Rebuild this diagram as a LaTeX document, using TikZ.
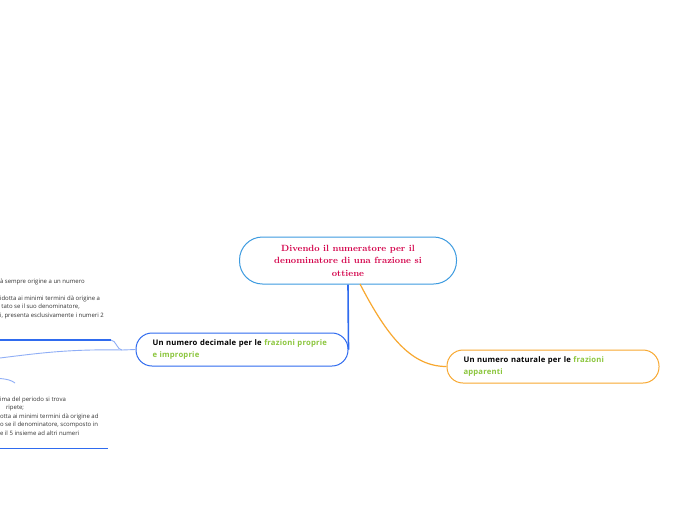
\documentclass[tikz,border=0pt]{standalone}
\usepackage{fontspec}
\setsansfont{Open Sans}
\definecolor{mainborder}{HTML}{3D9BE0}
\definecolor{maintext}{HTML}{D4004A}
\definecolor{leftblue}{HTML}{2F6BEF}
\definecolor{lightblue}{HTML}{8FAEF6}
\definecolor{orangeb}{HTML}{F8A830}
\definecolor{greent}{HTML}{8CC63E}
\definecolor{smalltext}{HTML}{333333}
\tikzset{
  pill/.style={draw, rounded corners=16pt, line width=1pt, fill=white, inner sep=0pt},
  mainfont/.style={font=\bfseries\fontsize{9}{12.5}\selectfont},
  mainbox/.style={pill, mainfont, draw=mainborder, rounded corners=23pt, minimum width=217pt, minimum height=47pt,
     align=center, text=maintext},
  subfont/.style={font=\sffamily\bfseries\fontsize{7.7}{12}\selectfont\addfontfeature{LetterSpace=2.5}},
  subbox/.style={pill, subfont, minimum width=212pt, minimum height=33pt, align=left, text width=179pt},
  smalltxt/.style={anchor=north west, inner sep=0pt, outer sep=0pt, align=left, text=smalltext,
     font=\sffamily\fontsize{6}{8.7}\selectfont},
  bline/.style={draw=leftblue, line width=1.6pt},
  thinline/.style={draw=lightblue, line width=0.9pt},
}
\begin{document}
\begin{tikzpicture}[x=1pt,y=-1pt]
\useasboundingbox[fill=white] (0,0) rectangle (696,520);

\node[mainbox] (c) at (348,260.5) {Divendo il numeratore per il\\denominatore di una frazione si\\ottiene};
\node[subbox, draw=leftblue] (l) at (242,349.5) {Un numero decimale per le \textcolor{greent}{frazioni proprie\\e improprie}};
\node[subbox, draw=orangeb] (r) at (553,366.5) {Un numero naturale per le \textcolor{greent}{frazioni\\apparenti}};

% connectors from the central node
\draw[leftblue, line width=1.6pt] (c.south) -- (l.east);
\coordinate (co) at (360,284);
\draw[orangeb, line width=1.2pt] (co) .. controls (388,338) and (412,366.5) .. (r.west);

% left branches
\coordinate (k1) at (122,350);
\coordinate (k2) at (111,340);
\coordinate (e1) at (0,340);
\coordinate (e2) at (0,358);
\draw[thinline] (l.west) -- (k1) .. controls (117,350) and (116,340) .. (k2);
\draw[bline] (k2) -- (e1);
\draw[thinline] (k1) .. controls (70,349) and (40,353) .. (e2);
\coordinate (a1) at (0,378.5);
\coordinate (a2) at (15,383);
\draw[thinline] (a1) .. controls (7,379) and (12,380.5) .. (a2);
\coordinate (b1) at (0,448.5);
\coordinate (b2) at (108,448.5);
\draw[draw=leftblue, line width=1.3pt] (b1) -- (b2);

% clipped texts
\node[smalltxt] (t1a) at (0,278.5) {à sempre origine a un numero};
\node[smalltxt] (t1b) at (0,295.5) {idotta ai minimi termini dà origine a};
\node[smalltxt] (t1c) at (1.5,304) {tato se il suo denominatore,};
\node[smalltxt] (t1d) at (0,312.7) {i, presenta esclusivamente i numeri 2};
\node[smalltxt] (t2a) at (0,396.5) {ima del periodo si trova};
\node[smalltxt] (t2b) at (6,405) {ripete;};
\node[smalltxt] (t2c) at (0,413.7) {otta ai minimi termini dà origine ad};
\node[smalltxt] (t2d) at (0,422.2) {o se il denominatore, scomposto in};
\node[smalltxt] (t2e) at (0,430.8) {e il 5 insieme ad altri numeri};
\end{tikzpicture}
\end{document}
